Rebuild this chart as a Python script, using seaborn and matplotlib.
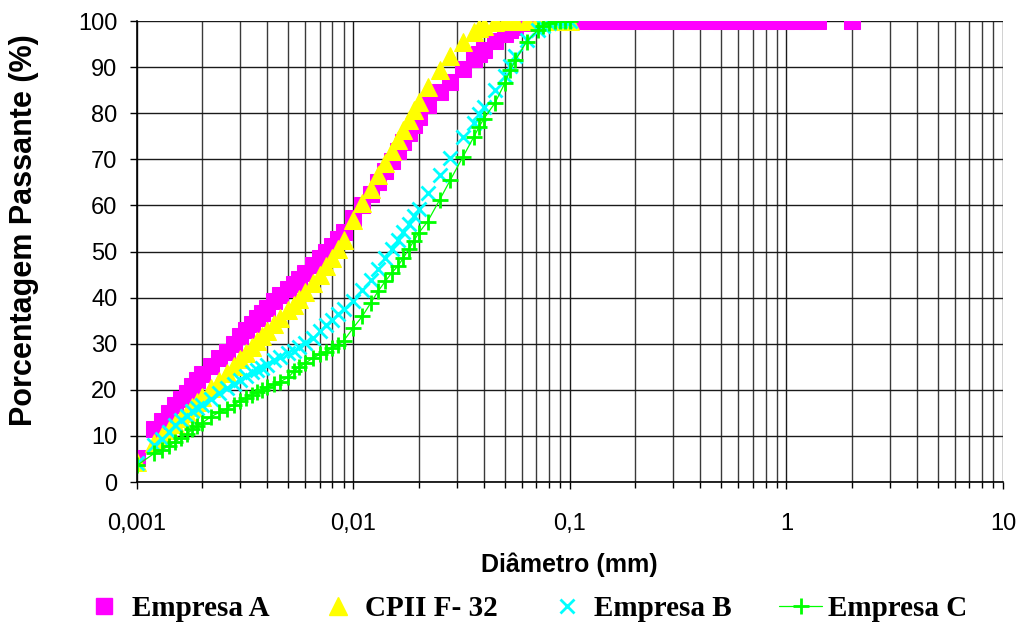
import matplotlib
matplotlib.use("Agg")
import matplotlib.pyplot as plt
import seaborn as sns
import pandas as pd
from matplotlib.ticker import FixedLocator, LogLocator, NullFormatter
from matplotlib.font_manager import FontProperties
from matplotlib.lines import Line2D

# ---------------- data ----------------
# particle diameters (mm) shared by the four samples, up to 0.1 mm
diam_mm = [0.0010, 0.0012, 0.0013, 0.0014, 0.0015, 0.0016, 0.0017, 0.0018, 0.0019, 0.0020,
           0.0022, 0.0024, 0.0026, 0.0028, 0.0030, 0.0032, 0.0034, 0.0036, 0.0038, 0.0040,
           0.0043, 0.0046, 0.0050, 0.0053, 0.0056, 0.0060, 0.0065, 0.0070, 0.0075, 0.0080,
           0.0085, 0.0090, 0.010, 0.011, 0.012, 0.013, 0.014, 0.015, 0.016, 0.017,
           0.018, 0.019, 0.020, 0.022, 0.025, 0.028, 0.032, 0.036, 0.038, 0.040,
           0.045, 0.050, 0.053, 0.056, 0.063, 0.071, 0.075, 0.080, 0.085, 0.090,
           0.095, 0.100]

empresa_a = [5.3, 11.5, 13.2, 15.0, 16.6, 18.0, 19.4, 20.8, 22.2, 23.4,
             25.2, 26.8, 28.2, 30.0, 31.6, 33.0, 34.3, 35.5, 36.7, 37.8,
             39.2, 40.5, 41.9, 43.0, 44.0, 45.4, 47.0, 48.5, 49.8, 51.3,
             52.8, 54.3, 57.3, 60.0, 62.5, 65.0, 67.4, 69.6, 71.7, 73.7,
             75.6, 77.4, 79.2, 81.8, 84.6, 86.7, 89.5, 91.8, 92.8, 93.8,
             95.6, 97.2, 98.1, 98.8, 99.5, 99.9, 100, 100, 100, 100,
             100, 100]
# Empresa A continues at 100 % for coarser diameters
diam_a_coarse_mm = [0.112, 0.125, 0.14, 0.16, 0.18, 0.20, 0.224, 0.25, 0.28, 0.315,
                    0.355, 0.40, 0.45, 0.50, 0.56, 0.63, 0.71, 0.80, 0.90, 1.00,
                    1.12, 1.25, 1.40, 2.00]
empresa_a_coarse = [100, 100, 100, 100, 100, 100, 100, 100, 100, 100,
                    100, 100, 100, 100, 100, 100, 100, 100, 100, 100,
                    100, 100, 100, 100]

cpii_f32 = [4.3, 8.5, 10.0, 11.3, 12.6, 13.8, 15.0, 16.2, 17.3, 18.4,
            20.3, 22.0, 23.6, 25.2, 26.6, 28.0, 29.3, 30.5, 31.6, 32.7,
            34.2, 35.6, 37.3, 38.5, 39.7, 41.3, 43.2, 45.0, 46.8, 48.6,
            50.5, 52.4, 56.8, 60.5, 63.6, 66.5, 69.2, 71.7, 74.1, 76.4,
            78.6, 80.6, 82.5, 85.7, 89.4, 92.4, 95.4, 97.6, 98.4, 99.0,
            99.7, 100, 100, 100, 100, 100, 100, 100, 100, 100,
            100, 100]

empresa_b = [4.2, 8.0, 9.3, 10.9, 12.3, 13.5, 14.4, 15.3, 16.0, 16.7,
             18.1, 19.3, 20.4, 21.3, 22.1, 23.1, 23.8, 24.2, 24.8, 25.4,
             26.4, 27.2, 28.0, 28.5, 29.3, 30.1, 31.3, 32.7, 34.0, 35.2,
             36.5, 37.5, 39.3, 41.6, 43.9, 46.3, 48.5, 50.6, 52.6, 54.3,
             55.9, 57.6, 59.2, 62.7, 66.6, 70.3, 74.9, 77.9, 79.8, 81.3,
             85.0, 88.0, 90.3, 92.4, 95.8, 98.0, 99.0, 99.6, 100, 100,
             100, 100]

empresa_c = [3.6, 6.2, 7.0, 7.8, 8.7, 9.6, 10.4, 11.4, 12.1, 12.8,
             14.2, 15.1, 15.9, 16.8, 17.5, 18.3, 18.9, 19.5, 20.0, 20.6,
             21.2, 21.8, 22.7, 24.0, 24.9, 25.8, 26.9, 27.7, 28.3, 29.0,
             29.8, 30.6, 33.5, 36.0, 38.8, 41.4, 43.5, 45.3, 46.8, 48.6,
             50.5, 52.3, 54.0, 56.5, 61.2, 65.5, 70.5, 74.9, 77.0, 78.8,
             82.2, 86.5, 89.4, 91.5, 95.5, 98.0, 99.0, 99.6, 100, 100,
             100, 100]

series_names = ["Empresa A", "CPII F- 32", "Empresa B", "Empresa C"]
x_ticks = [0.001, 0.01, 0.1, 1, 10]
x_tick_labels = ["0,001", "0,01", "0,1", "1", "10"]
y_ticks = [0, 10, 20, 30, 40, 50, 60, 70, 80, 90, 100]

# ---------------- figure ----------------
sns.set_theme(style="white")
plt.rcParams["font.family"] = ["Liberation Sans", "DejaVu Sans"]
plt.rcParams["text.color"] = "black"
plt.rcParams["axes.labelcolor"] = "black"
plt.rcParams["xtick.color"] = "black"
plt.rcParams["ytick.color"] = "black"

fig = plt.figure(figsize=(10.19, 6.31), dpi=100)
ax = fig.add_axes([0.1344, 0.2361, 0.8499, 0.7306])

df_a = pd.DataFrame({"d": diam_mm + diam_a_coarse_mm, "p": empresa_a + empresa_a_coarse})
df_cp = pd.DataFrame({"d": diam_mm, "p": cpii_f32})
df_b = pd.DataFrame({"d": diam_mm, "p": empresa_b})
df_c = pd.DataFrame({"d": diam_mm, "p": empresa_c})

styles = [
    dict(marker="s", markersize=11, color="#FF00FF", markeredgecolor="#FF00FF", linestyle="none"),
    dict(marker="^", markersize=13, color="#FFFF00", markeredgecolor="#FFFF00", linestyle="none"),
    dict(marker="x", markersize=10, color="#00FFFF", markeredgecolor="#00FFFF",
         markeredgewidth=2.0, linestyle="none"),
    dict(marker="+", markersize=12, color="#00FF00", markeredgecolor="#00FF00",
         markeredgewidth=2.0, linewidth=0.9),
]

common = dict(estimator=None, sort=False, ax=ax, legend=False)
for df, st in zip([df_a, df_cp, df_b, df_c], styles):
    sns.lineplot(data=df, x="d", y="p", **st, **common)

ax.set_xscale("log")
ax.set_xlim(0.001, 10)
ax.set_ylim(0, 100)
ax.xaxis.set_major_locator(FixedLocator(x_ticks))
ax.set_xticklabels(x_tick_labels)
ax.xaxis.set_minor_locator(LogLocator(base=10, subs=[2, 3, 4, 5, 6, 7, 8, 9], numticks=20))
ax.xaxis.set_minor_formatter(NullFormatter())
ax.set_yticks(y_ticks)

ax.set_axisbelow(True)
ax.grid(which="major", axis="both", color="#1a1a1a", linewidth=1.0)
ax.grid(which="minor", axis="x", color="#3a3a3a", linewidth=1.0)

for s in ["top", "right"]:
    ax.spines[s].set_visible(False)
for s in ["left", "bottom"]:
    ax.spines[s].set_color("black")
    ax.spines[s].set_linewidth(1.2)

ax.tick_params(axis="x", which="major", direction="out", length=5, width=1, color="black",
               labelsize=17, labelcolor="black", pad=17, bottom=True)
ax.tick_params(axis="x", which="minor", direction="out", length=4, width=1, color="black",
               bottom=True)
ax.tick_params(axis="y", which="major", direction="out", length=5, width=1, color="black",
               labelsize=17, labelcolor="black", pad=9, left=True)

ax.set_xlabel("Diâmetro (mm)", fontsize=18, fontweight="bold", color="black")
ax.set_ylabel("Porcentagem Passante (%)", fontsize=22, fontweight="bold", color="black")
ax.xaxis.set_label_coords(0.499, -0.18)
ax.xaxis.label.set_va("center")
ax.yaxis.set_label_coords(-0.131, 0.547)
ax.yaxis.label.set_va("center")

handles = [Line2D([], [], **st) for st in styles]
leg = fig.legend(handles, series_names, loc="center", bbox_to_anchor=(0.515, 0.036), ncol=4,
                 frameon=False, prop=FontProperties(family="Liberation Serif", weight="bold", size=21),
                 handlelength=1.5, handletextpad=0.2, columnspacing=1.6)
for t in leg.get_texts():
    t.set_color("black")

fig.savefig("out.png", dpi=100)
